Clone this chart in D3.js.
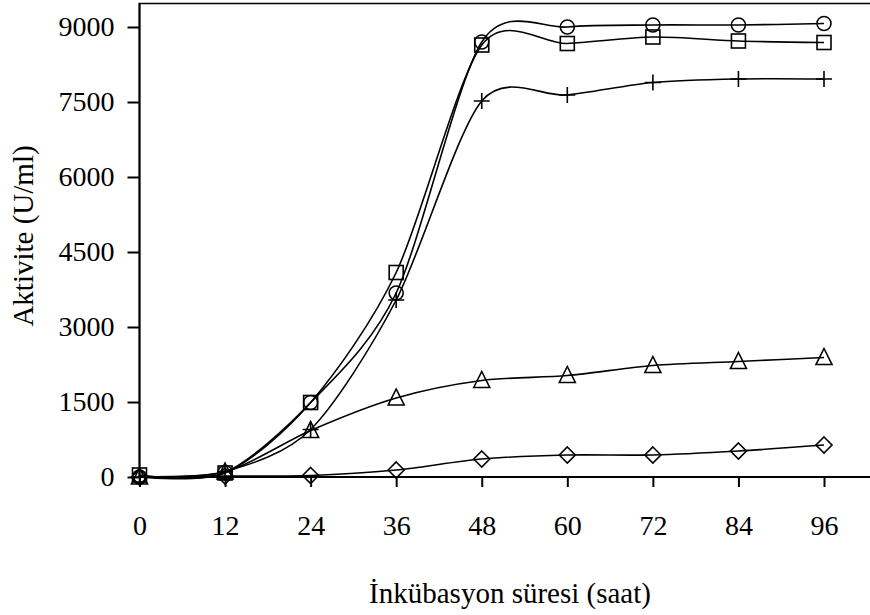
<!DOCTYPE html>
<html>
<head>
<meta charset="utf-8">
<script src="https://cdn.jsdelivr.net/npm/d3@7"></script>
<style>
  html, body { margin: 0; padding: 0; background: #fff; }
  svg { display: block; }
  text { font-family: "Liberation Serif", "Times New Roman", serif; fill: #000; }
</style>
</head>
<body>
<svg id="chart" width="870" height="615"></svg>
<script>
// ---- data ----
const hours = [0, 12, 24, 36, 48, 60, 72, 84, 96];
const circleSeries   = [0, 90, 1490, 3680, 8700, 9000, 9040, 9040, 9070];
const squareSeries   = [40, 80, 1490, 4090, 8640, 8670, 8800, 8720, 8690];
const plusSeries     = [0, 110, 950, 3540, 7520, 7640, 7890, 7960, 7960];
const triangleSeries = [0, 100, 930, 1580, 1930, 2030, 2230, 2310, 2390];
const diamondSeries  = [0, 20, 30, 140, 360, 440, 440, 520, 640];
const xTicks = [0, 12, 24, 36, 48, 60, 72, 84, 96];
const yTicks = [0, 1500, 3000, 4500, 6000, 7500, 9000];
const xTitle = "İnkübasyon süresi (saat)";
const yTitle = "Aktivite (U/ml)";

const seriesList = [
  { name: "diamond", values: diamondSeries, marker: "diamond" },
  { name: "triangle", values: triangleSeries, marker: "triangle" },
  { name: "plus", values: plusSeries, marker: "plus" },
  { name: "square", values: squareSeries, marker: "square" },
  { name: "circle", values: circleSeries, marker: "circle" }
];

const svg = d3.select("#chart");
const x = d3.scaleLinear().domain([0, 96]).range([139.5, 824]);
const y = d3.scaleLinear().domain([0, 9000]).range([477, 27]);

// frame (right edge lies just off-canvas)
svg.append("rect")
  .attr("x", 139.5).attr("y", 3.5)
  .attr("width", 733).attr("height", 473.5)
  .attr("fill", "none").attr("stroke", "#000").attr("stroke-width", 1.5);

// axes
const yAxis = d3.axisLeft(y).tickValues(yTicks).tickSize(12).tickPadding(13).tickFormat(d3.format("d"));
const gy = svg.append("g").attr("transform", "translate(139.5,0)").call(yAxis);
gy.select(".domain").remove();
gy.selectAll("line").attr("stroke", "#000").attr("stroke-width", 2);
gy.selectAll("text").style("font-size", "28px");
svg.append("line").attr("x1", 139.5).attr("x2", 139.5).attr("y1", 3).attr("y2", 478)
  .attr("stroke", "#000").attr("stroke-width", 2);

const xAxis = d3.axisBottom(x).tickValues(xTicks).tickSize(10).tickPadding(28).tickFormat(d3.format("d"));
const gx = svg.append("g").attr("transform", "translate(0,477)").call(xAxis);
gx.select(".domain").remove();
gx.selectAll("line").attr("stroke", "#000").attr("stroke-width", 2);
gx.selectAll("text").style("font-size", "28px");
svg.append("line").attr("x1", 138.5).attr("x2", 872).attr("y1", 477).attr("y2", 477)
  .attr("stroke", "#000").attr("stroke-width", 2);

// titles
svg.append("text")
  .attr("x", 510).attr("y", 603)
  .attr("text-anchor", "middle")
  .style("font-size", "29px")
  .text(xTitle);
svg.append("text")
  .attr("transform", "translate(33,236) rotate(-90)")
  .attr("text-anchor", "middle")
  .style("font-size", "29px")
  .text(yTitle);

// lines
const line = d3.line()
  .x((d, i) => x(hours[i]))
  .y(d => y(d))
  .curve(d3.curveCardinal.tension(0.15));

const gLines = svg.append("g");
seriesList.forEach(s => {
  gLines.append("path")
    .datum(s.values)
    .attr("d", line)
    .attr("fill", "none")
    .attr("stroke", "#000")
    .attr("stroke-width", 1.6);
});

// markers
function drawMarker(g, type, cx, cy) {
  const st = { fill: "none", stroke: "#000", "stroke-width": 1.6 };
  let el;
  if (type === "circle") {
    el = g.append("circle").attr("cx", cx).attr("cy", cy).attr("r", 7);
  } else if (type === "square") {
    el = g.append("rect").attr("x", cx - 7).attr("y", cy - 7).attr("width", 14).attr("height", 14);
  } else if (type === "triangle") {
    el = g.append("path").attr("d", `M${cx},${cy - 9}L${cx + 8},${cy + 7}L${cx - 8},${cy + 7}Z`);
  } else if (type === "diamond") {
    el = g.append("path").attr("d", `M${cx},${cy - 8}L${cx + 8},${cy}L${cx},${cy + 8}L${cx - 8},${cy}Z`);
  } else if (type === "plus") {
    el = g.append("path").attr("d", `M${cx - 8},${cy}H${cx + 8}M${cx},${cy - 8}V${cy + 8}`);
  }
  Object.entries(st).forEach(([k, v]) => el.attr(k, v));
}

const gMarkers = svg.append("g");
seriesList.forEach(s => {
  s.values.forEach((v, i) => drawMarker(gMarkers, s.marker, x(hours[i]), y(v)));
});
</script>
</body>
</html>
